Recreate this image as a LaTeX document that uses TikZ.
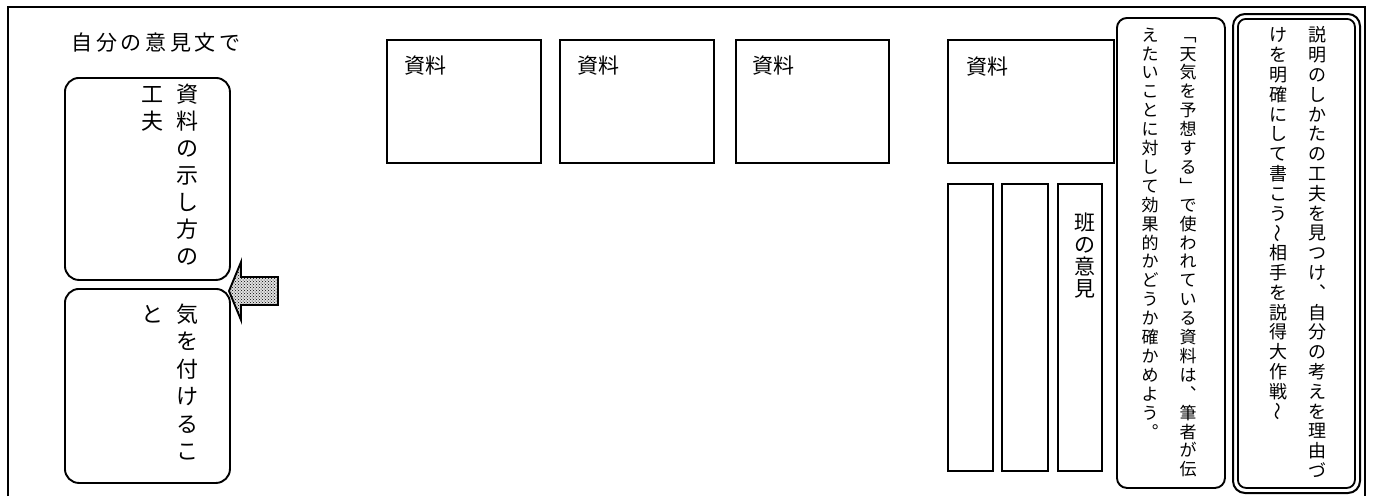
\documentclass[tikz,border=0pt]{standalone}
\usepackage{fontspec}
\usepackage{graphicx}
\setmainfont{Noto Sans CJK JP}
\usetikzlibrary{patterns}
\makeatletter
\newcommand\vcol[2]{\vbox{\offinterlineskip\@tfor\vc@c:=#2\do{\vbox to #1{\vss\hbox to 1em{\hss\vrule height .88em depth .12em width 0pt\vc@c\hss}\vss}}}}
\newcommand\hrow[2]{\hbox{\@tfor\vc@c:=#2\do{\hbox to #1{\hss\vc@c\hss}}}}
\newcommand\vwave{\rotatebox[origin=c]{90}{\hbox to 1em{\vrule height .88em depth .12em width 0pt\hss～\hss}}}
\makeatother
\tikzset{
  box/.style={draw, line width=1.9pt, inner sep=0pt, anchor=north west},
  rbox/.style={box, rounded corners=#1},
  txt/.style={inner sep=0pt, font=\fontsize{#1}{#1}\selectfont},
  coltxt/.style={txt=#1, anchor=north},
}
\begin{document}
\begin{tikzpicture}[x=1pt,y=-1pt]
\useasboundingbox (0,0) rectangle (1375,496);
% frame
\draw[line width=2.2pt] (8,496) -- (8,7) -- (1365,7) -- (1365,496);
% title
\node[txt=21] (title) at (156,43) {\hrow{24.7pt}{自分の意見文で}};
% left boxes
\node[rbox=14pt, minimum width=165pt, minimum height=202pt] (L1) at (64,77) {};
\node[rbox=14pt, minimum width=165pt, minimum height=194pt] (L2) at (64,288) {};
\node[coltxt=22] (L1a) at (187,80) {\vcol{27pt}{資料の示し方の}};
\node[coltxt=22] (L1b) at (152,80) {\vcol{27pt}{工夫}};
\node[coltxt=22] (L2a) at (187,300) {\vcol{27.5pt}{気を付けるこ}};
\node[coltxt=22] (L2b) at (152,300) {\vcol{27.5pt}{と}};
% arrow
\fill[black!12] (229,291) -- (241,262) -- (241,277) -- (278,277) -- (278,305) -- (241,305) -- (241,320) -- cycle;
\fill[pattern=crosshatch dots, pattern color=black] (229,291) -- (241,262) -- (241,277) -- (278,277) -- (278,305) -- (241,305) -- (241,320) -- cycle;
\draw[line width=1.9pt, line join=miter] (229,291) -- (241,262) -- (241,277) -- (278,277) -- (278,305) -- (241,305) -- (241,320) -- cycle;
% resource boxes
\node[box, minimum width=154pt, minimum height=123pt] (R1) at (386,39) {};
\node[box, minimum width=154pt, minimum height=123pt] (R2) at (559,39) {};
\node[box, minimum width=153pt, minimum height=123pt] (R3) at (735,39) {};
\node[box, minimum width=166pt, minimum height=123pt] (R4) at (947,39) {};
\node[txt=21] (R1t) at (425,66) {資料};
\node[txt=21] (R2t) at (598,66) {資料};
\node[txt=21] (R3t) at (773,66) {資料};
\node[txt=21] (R4t) at (987,67) {資料};
% narrow boxes
\node[box, minimum width=45pt, minimum height=287pt] (N1) at (947,183) {};
\node[box, minimum width=46pt, minimum height=287pt] (N2) at (1001,183) {};
\node[box, minimum width=44pt, minimum height=287pt] (N3) at (1057,183) {};
\node[coltxt=21] (N3t) at (1085,211) {\vcol{22pt}{班の意見}};
% theme box
\node[rbox=10pt, minimum width=108pt, minimum height=470pt] (B2) at (1116,17) {};
\node[coltxt=17] (B2a) at (1188,25) {\vcol{18.9pt}{﹁天気を予想する﹂で使われている資料は︑筆者が伝}};
\node[coltxt=17] (B2b) at (1150,25) {\vcol{18.9pt}{えたいことに対して効果的かどうか確かめよう︒}};
% title box (double)
\node[rbox=12pt, line width=2pt, minimum width=127pt, minimum height=479pt] (B3o) at (1232,13) {};
\node[rbox=8pt, line width=1.8pt, minimum width=117pt, minimum height=469pt] (B3i) at (1237,18) {};
\node[coltxt=18] (B3a) at (1317,25) {\vcol{19.8pt}{説明のしかたの工夫を見つけ︑自分の考えを理由づ}};
\node[coltxt=18] (B3b) at (1278,25) {\vcol{19.8pt}{けを明確にして書こう{\vwave}相手を説得大作戦{\vwave}}};
\end{tikzpicture}
\end{document}
